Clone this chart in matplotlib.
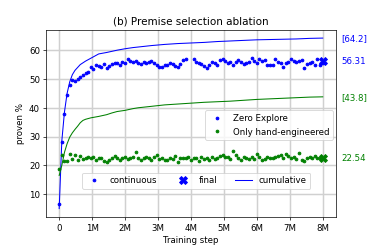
import numpy as np
import matplotlib
matplotlib.use("Agg")
import matplotlib.pyplot as plt
from matplotlib.lines import Line2D

# training steps (in millions) of the evaluation points
steps = np.arange(101) * 0.08

zero_explore = [
    6.5, 28.0, 38.0, 44.5, 47.8, 49.8, 49.4, 49.9, 50.6, 51.4,
    52.0, 52.5, 54.3, 53.6, 55.0, 54.6, 54.2, 55.2, 53.8, 54.6,
    55.1, 55.4, 55.6, 54.7, 56.0, 55.4, 56.8, 56.4, 55.9, 56.2,
    55.6, 55.1, 55.9, 55.7, 55.9, 56.1, 55.4, 55.0, 54.0, 54.3,
    54.7, 55.0, 55.5, 55.3, 54.6, 54.3, 55.3, 56.6, 57.0, np.nan,
    np.nan, 57.0, 55.9, 55.5, 55.2, 54.6, 53.9, 55.0, 56.0, 55.4,
    54.8, 56.5, 57.1, 56.4, 55.4, 56.0, 54.8, 56.0, 56.5, 55.9,
    55.3, 55.6, 56.0, 57.4, 56.3, 55.6, 57.1, 56.3, 56.7, 54.9,
    54.9, 54.9, 57.0, 55.8, 55.6, 54.2, 55.6, 56.0, 57.1, 56.3,
    56.0, 56.3, 56.6, 53.8, 55.2, 55.6, 56.0, 54.8, 56.8, 54.8,
    55.6,
]

hand_engineered = [
    18.7, 23.6, 21.5, 21.6, 24.0, 22.3, 23.7, 22.0, 23.4, 22.2,
    22.6, 22.9, 22.4, 22.8, 22.0, 22.7, 22.5, 21.6, 21.1, 21.8,
    22.6, 23.3, 22.4, 22.0, 22.6, 22.9, 22.2, 22.5, 22.8, 24.7,
    22.5, 22.0, 22.6, 23.0, 22.4, 22.0, 22.8, 23.5, 22.1, 22.5,
    21.7, 21.9, 22.6, 22.3, 23.2, 21.2, 22.6, 22.7, 22.5, 23.0,
    21.9, 22.6, 22.5, 21.4, 22.9, 22.2, 22.6, 22.0, 22.8, 22.3,
    22.6, 23.1, 23.6, 22.8, 23.0, 22.3, 25.1, 23.5, 22.4, 22.0,
    23.0, 22.5, 22.2, 23.0, 22.2, 23.9, 23.0, 22.0, 22.3, 22.8,
    22.4, 22.7, 22.9, 23.1, 23.6, 22.4, 23.8, 23.4, 22.5, 23.0,
    22.2, 24.4, 22.0, 21.4, 22.4, 22.8, 22.4, 23.1, 22.6, 22.4,
    22.5,
]

# cumulative proven
cum_steps = [0, 0.08, 0.16, 0.24, 0.32, 0.4, 0.48, 0.56, 0.64, 0.72, 0.8,
             0.96, 1.2, 1.44, 1.6, 1.76, 2.0, 2.24, 2.4, 2.8, 3.2, 3.6, 4.0,
             4.4, 4.8, 5.2, 5.6, 6.0, 6.4, 6.8, 7.2, 7.6, 8.0]
cum_zero_explore = [5, 28.5, 38.5, 45, 49, 51.5, 53, 54, 55, 55.6, 56.2,
                    57.2, 58.7, 59.2, 59.6, 60, 60.5, 60.9, 61.1, 61.6, 62,
                    62.3, 62.5, 62.7, 63, 63.2, 63.4, 63.6, 63.7, 63.8, 63.9,
                    64.1, 64.2]
cum_hand_engineered = [16.5, 20, 24.5, 27.5, 29.8, 31.3, 32.5, 33.6, 34.8,
                       35.6, 36, 36.5, 37, 37.6, 38.2, 38.7, 39.1, 39.7, 40,
                       40.5, 41, 41.3, 41.6, 41.9, 42.1, 42.3, 42.6, 42.9,
                       43.1, 43.3, 43.5, 43.7, 43.8]

final_step = 8.0
final_zero_explore = 56.31
final_hand_engineered = 22.54

xtick_pos = [0, 1, 2, 3, 4, 5, 6, 7, 8]
xtick_labels = ["0", "1M", "2M", "3M", "4M", "5M", "6M", "7M", "8M"]

# drawn at 6x4 inches, saved small so everything scales down together
fig, ax = plt.subplots(figsize=(6, 4), dpi=62.34)
fig.subplots_adjust(left=0.123, right=0.898, top=0.88, bottom=0.128)

series = [
    ("Zero Explore", "blue", zero_explore, cum_zero_explore, final_zero_explore),
    ("Only hand-engineered", "green", hand_engineered, cum_hand_engineered,
     final_hand_engineered),
]
for name, color, vals, cum, final in series:
    ax.plot(steps, vals, ".", color=color, ms=6.5, label=name)
    ax.plot(cum_steps, cum, "-", color=color, lw=1.2)
    ax.plot([final_step], [final], "X", color=color, ms=10)
    ax.text(1.018, cum[-1], "[%.1f]" % cum[-1], color=color,
            va="center", transform=ax.get_yaxis_transform())
    ax.text(1.018, final, "%.2f" % final, color=color,
            va="center", transform=ax.get_yaxis_transform())

ax.set_xticks(xtick_pos)
ax.set_xticklabels(xtick_labels)
ax.grid(True, color="#d0d0d0", lw=1.7)
ax.set_axisbelow(True)
ax.set_xlabel("Training step")
ax.set_ylabel("proven %")
ax.set_title("(b) Premise selection ablation", fontsize=12)

leg1 = ax.legend(loc="lower right", bbox_to_anchor=(1.004, 0.39))
ax.add_artist(leg1)

handles = [
    Line2D([], [], marker=".", ls="none", color="blue", ms=6.5),
    Line2D([], [], marker="X", ls="none", color="blue", ms=10),
    Line2D([], [], ls="-", color="blue", lw=1.2),
]
ax.legend(handles, ["continuous", "final", "cumulative"], ncol=3,
          loc="lower left", bbox_to_anchor=(0.109, 0.129))

fig.savefig("out.png", dpi=62.34)
